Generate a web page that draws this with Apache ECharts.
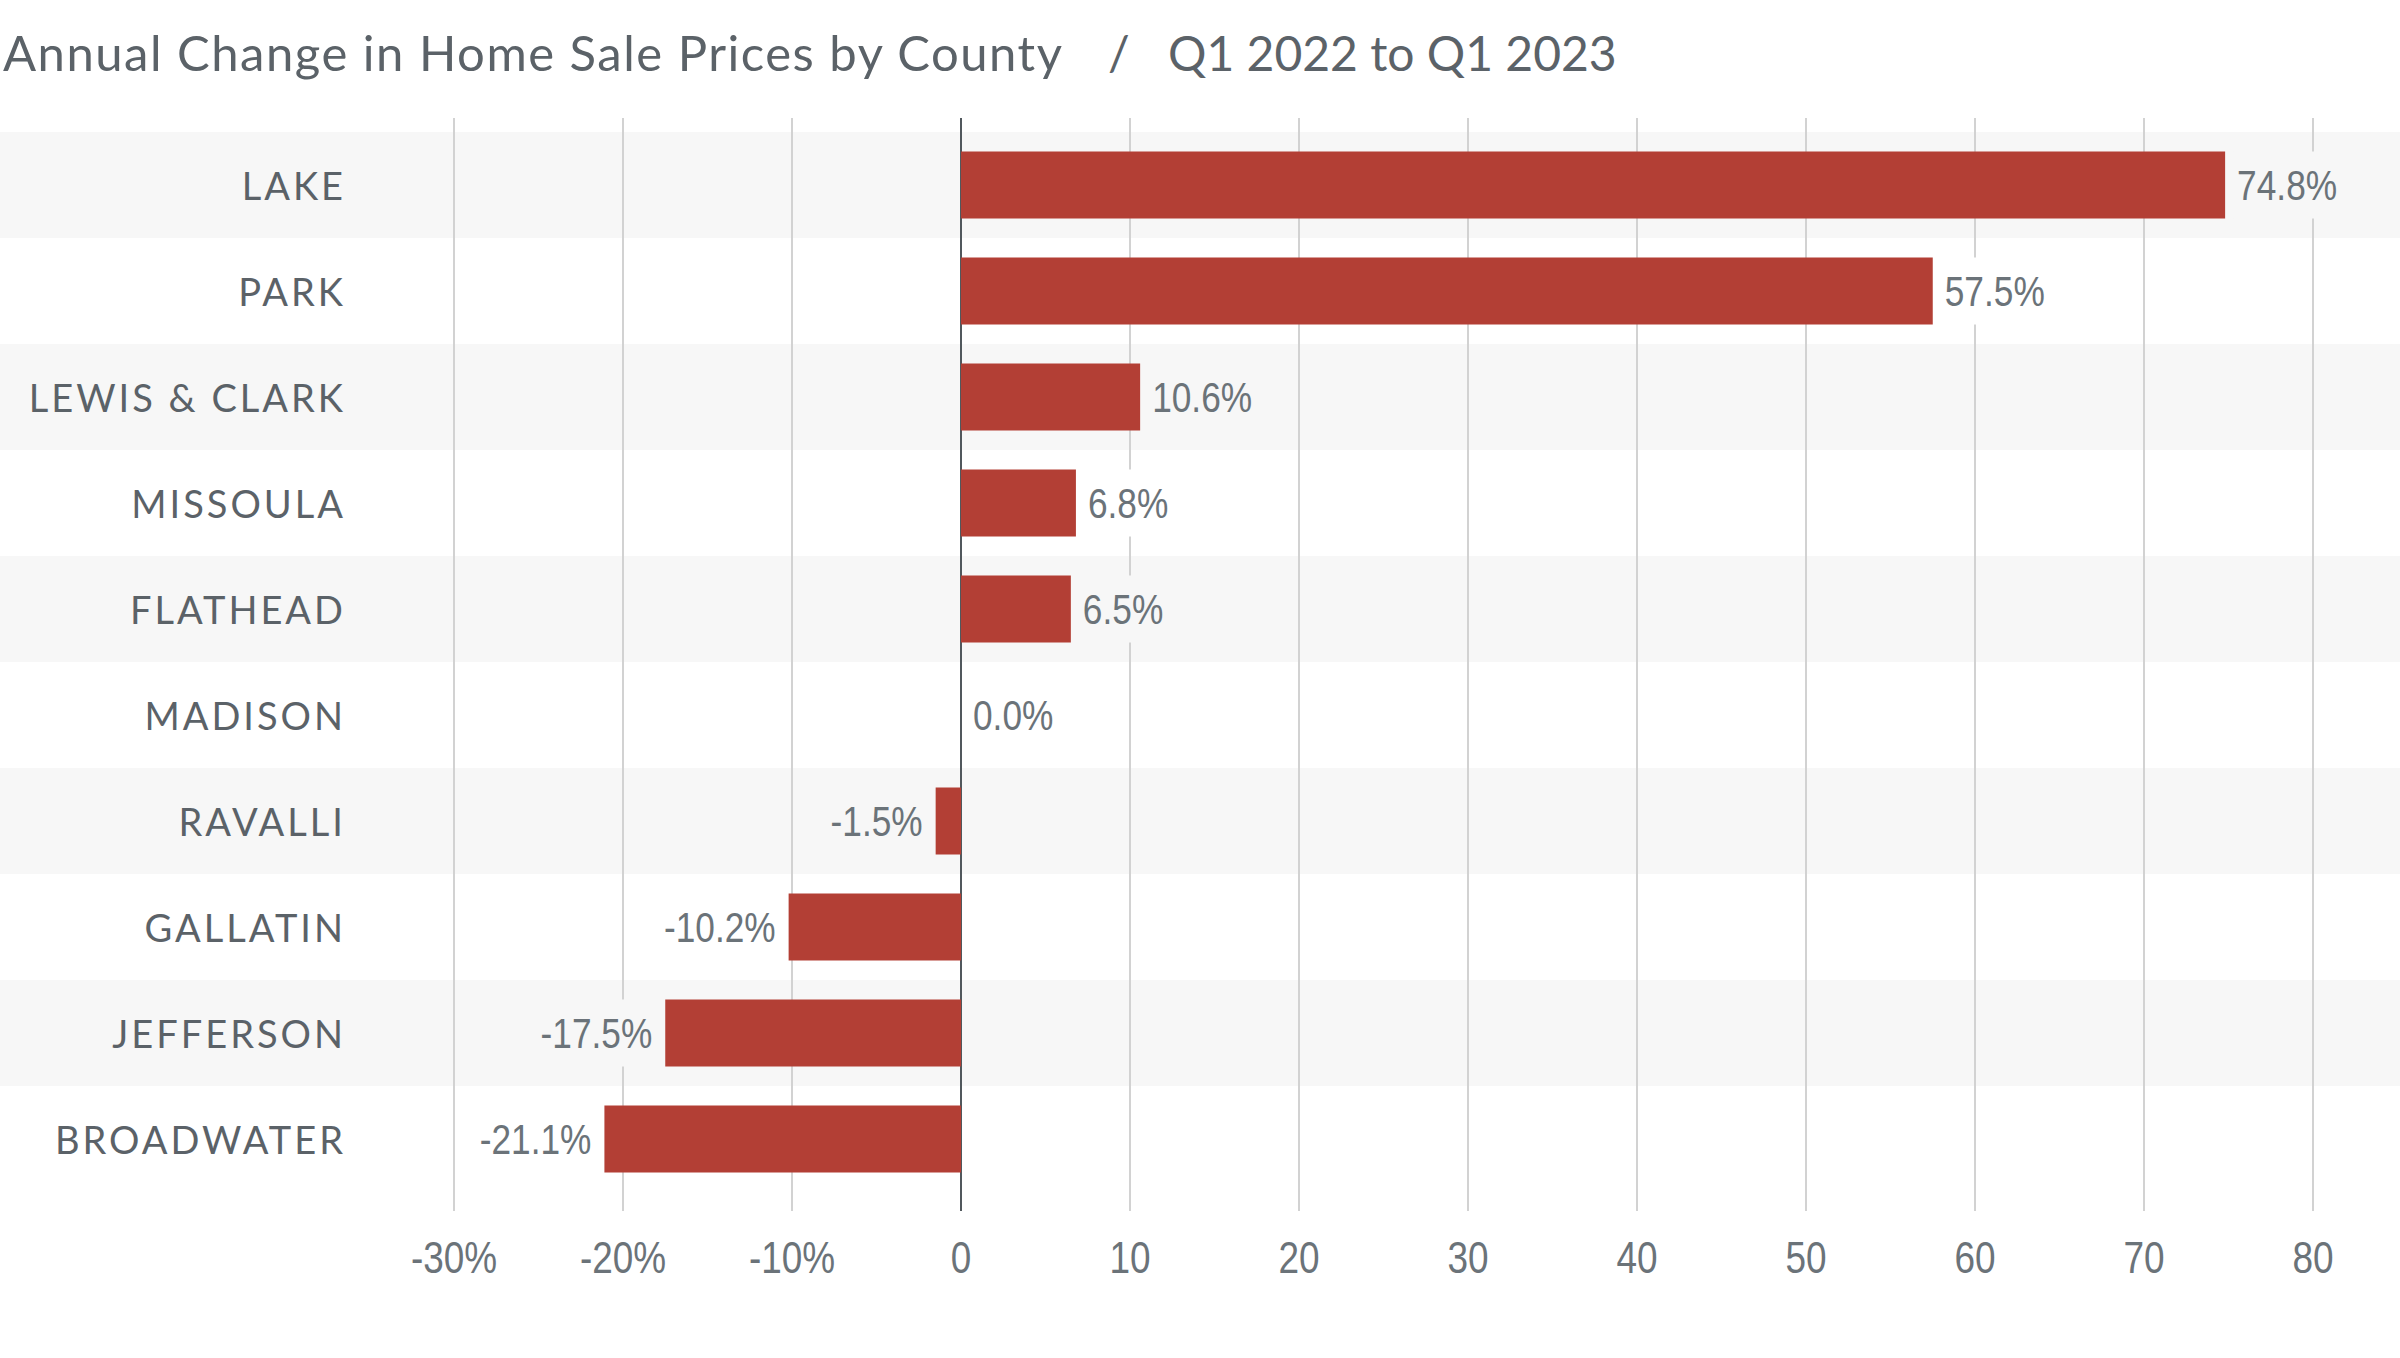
<!DOCTYPE html>
<html>
<head>
<meta charset="utf-8">
<script src="https://cdn.jsdelivr.net/npm/echarts@6/dist/echarts.min.js"></script>
<style>
html,body{margin:0;padding:0;background:#fff;}
#chart{width:2400px;height:1358px;}
#chart text[style*="38px"]{letter-spacing:3px;}
#chart text[style*="49px"]{letter-spacing:1.5px;}
</style>
</head>
<body>
<div id="chart"></div>
<script>
const categories = ['LAKE','PARK','LEWIS & CLARK','MISSOULA','FLATHEAD','MADISON','RAVALLI','GALLATIN','JEFFERSON','BROADWATER'];
const values = [74.8, 57.5, 10.6, 6.8, 6.5, 0.0, -1.5, -10.2, -17.5, -21.1];
const xTicks = [-30,-20,-10,0,10,20,30,40,50,60,70,80];
const xTickLabels = ['-30%','-20%','-10%','0','10','20','30','40','50','60','70','80'];
const shadedRows = [0,2,4,6,8];
const titleMain = 'Annual Change in Home Sale Prices by County';
const titleSep = '/';
const titleSub = 'Q1 2022 to Q1 2023';

const BAND = '#f7f7f7';
const TXT = '#5b6268';
const NUM = '#6b7379';
const COND = 'Liberation Sans';
const chart = echarts.init(document.getElementById('chart'), null, {renderer:'svg'});

const gridLineColors = xTicks.map(t => t === 0 ? '#51585d' : '#d2d2d2');
const titleStyle = {fontFamily: 'Lato', fontSize: 49, fontWeight: 'normal', color: TXT};
const subStyle = {fontFamily: 'Lato', fontSize: 48, fontWeight: 'normal', color: TXT};

const option = {
  animation: false,
  title: [
    {left: 3, top: 27, padding: 0, text: titleMain, textStyle: titleStyle},
    {left: 1108, top: 28, padding: 0, text: titleSep, textStyle: subStyle},
    {left: 1168, top: 28, padding: 0, text: titleSub, textStyle: subStyle}
  ],
  grid: [
    {left: 454, right: 87, top: 118, bottom: 147},
    {left: 454, right: 87, top: 132, bottom: 166}
  ],
  xAxis: [
    {
      gridIndex: 0, type: 'value', min: -30, max: 80, interval: 10, z: 1,
      axisLine: {show: false}, axisTick: {show: false},
      splitLine: {show: true, lineStyle: {color: gridLineColors, width: 2}},
      axisLabel: {
        margin: 24, fontFamily: COND, fontSize: 45, color: NUM,
        formatter: v => { const i = xTicks.indexOf(Math.round(v)); return i >= 0 ? xTickLabels[i] : ''; }
      }
    },
    {
      gridIndex: 1, type: 'value', min: -30, max: 80, interval: 10, show: false,
      splitLine: {show: false}
    }
  ],
  yAxis: [
    {gridIndex: 0, type: 'value', show: false, splitLine: {show: false}},
    {
      gridIndex: 1, type: 'category', data: categories, inverse: true,
      axisLine: {show: false}, axisTick: {show: false}, splitLine: {show: false},
      axisLabel: {margin: 108, fontFamily: 'Lato', fontSize: 38, color: TXT}
    }
  ],
  series: [
    {
      type: 'custom', xAxisIndex: 1, yAxisIndex: 1, z: 0, clip: false, silent: true,
      encode: {x: 0, y: 1},
      data: shadedRows.map(r => [0, r]),
      renderItem: (params, api) => {
        const c = api.coord([0, api.value(1)]);
        const h = api.size([0, 1])[1];
        return {type: 'rect', shape: {x: 0, y: c[1] - h / 2, width: api.getWidth(), height: h}, style: {fill: BAND}};
      }
    },
    {
      type: 'bar', xAxisIndex: 1, yAxisIndex: 1, z: 3, barWidth: 67, silent: true,
      itemStyle: {color: '#b33f35'},
      data: values.map((v, i) => ({
        value: v,
        label: {
          show: true,
          position: v < 0 ? 'left' : 'right',
          distance: v < 0 ? 9 : 8,
          formatter: p => p.value.toFixed(1) + '%',
          fontFamily: COND, fontSize: 43, color: NUM,
          lineHeight: 43, padding: [12, 4], width: 100, overflow: 'none',
          backgroundColor: shadedRows.indexOf(i) >= 0 ? BAND : '#ffffff'
        }
      }))
    }
  ]
};
chart.setOption(option);

function condense() {
  const texts = document.querySelectorAll('#chart svg text');
  texts.forEach(t => {
    const st = t.getAttribute('style') || '';
    if (st.indexOf('Liberation') < 0 || t.dataset.cond) return;
    const len = t.getComputedTextLength();
    if (!len) return;
    t.dataset.cond = '1';
    t.setAttribute('textLength', (len * 0.82).toFixed(1));
    t.setAttribute('lengthAdjust', 'spacingAndGlyphs');
  });
}
chart.on('finished', condense);
setTimeout(condense, 50);
setTimeout(condense, 300);
</script>
</body>
</html>
